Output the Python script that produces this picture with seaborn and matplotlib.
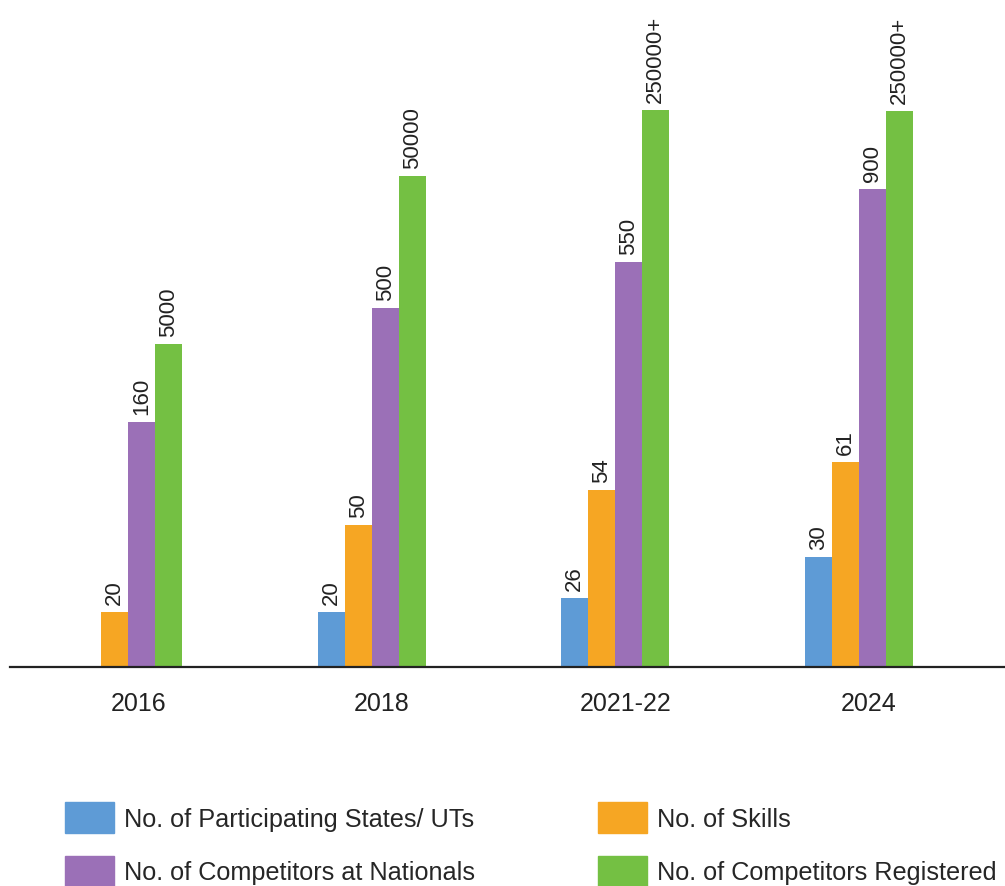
import pandas as pd
import numpy as np
import matplotlib.pyplot as plt
import matplotlib.transforms as mtrans
import seaborn as sns

# Données du graphique (hauteurs telles que dessinées, étiquettes telles qu'affichées)
annees = ['2016', '2018', '2021-22', '2024']
series = ['No. of Participating States/ UTs', 'No. of Competitors at Nationals',
          'No. of Skills', 'No. of Competitors Registered']
etats_h = [np.nan, 55, 69, 110]
skills_h = [55, 142, 177, 205]
nationals_h = [245, 359, 405, 478]
inscrits_h = [323, 491, 557, 556]
etats_lbl = ['', '20', '26', '30']
skills_lbl = ['20', '50', '54', '61']
nationals_lbl = ['160', '500', '550', '900']
inscrits_lbl = ['5000', '50000', '250000+', '250000+']

couleurs = {series[0]: '#5E9BD6', series[2]: '#F6A623',
            series[1]: '#9B70B7', series[3]: '#74C043'}
ordre = [series[0], series[2], series[1], series[3]]

df = pd.DataFrame({
    'Annee': annees * 4,
    'Serie': [series[0]] * 4 + [series[2]] * 4 + [series[1]] * 4 + [series[3]] * 4,
    'Hauteur': etats_h + skills_h + nationals_h + inscrits_h,
})
etiquettes = {series[0]: etats_lbl, series[2]: skills_lbl,
              series[1]: nationals_lbl, series[3]: inscrits_lbl}

sns.set_style('white')
plt.rcParams['font.family'] = ['Liberation Sans', 'DejaVu Sans']

fig = plt.figure(figsize=(10.05, 8.87), dpi=100)
ax = fig.add_axes([10 / 1005, 1 - 668 / 887, 995 / 1005, 668 / 887])

sns.barplot(data=df, x='Annee', y='Hauteur', hue='Serie', hue_order=ordre,
            order=annees, palette=couleurs, width=0.444, saturation=1,
            dodge=True, legend=False, linewidth=0, ax=ax)

# Étiquettes verticales au-dessus des barres
for cont, nom in zip(ax.containers, ordre):
    h = df[df['Serie'] == nom]['Hauteur'].values
    lbls = [l for l, v in zip(etiquettes[nom], h) if not np.isnan(v)]
    ax.bar_label(cont, labels=lbls, rotation=90, padding=6, fontsize=16, color='#222222')

ax.set_xlim(-0.485, 3.60)
ax.set_ylim(0, 668)
ax.set_xlabel('')
ax.set_ylabel('')
ax.set_yticks([])
ax.tick_params(axis='x', length=0, pad=17, labelsize=18, labelcolor='#222222')
decal = mtrans.ScaledTranslation(10 / 100, 0, fig.dpi_scale_trans)
for t in ax.get_xticklabels():
    t.set_transform(t.get_transform() + decal)
for s in ['top', 'right', 'left']:
    ax.spines[s].set_visible(False)
ax.spines['bottom'].set_color('#222222')
ax.spines['bottom'].set_linewidth(1.6)

# Légende en bas, deux colonnes
poignees = [plt.Rectangle((0, 0), 1, 1, color=couleurs[s]) for s in series]
fig.legend(poignees, series, loc='upper left', bbox_to_anchor=(65 / 1005, 1 - 803 / 887),
           ncol=2, frameon=False, handlelength=1.95, handleheight=1.5,
           labelspacing=0.9, columnspacing=4.85, handletextpad=0.4, borderpad=0,
           borderaxespad=0, prop={'size': 18.2})

fig.savefig('out.png', dpi=100)
